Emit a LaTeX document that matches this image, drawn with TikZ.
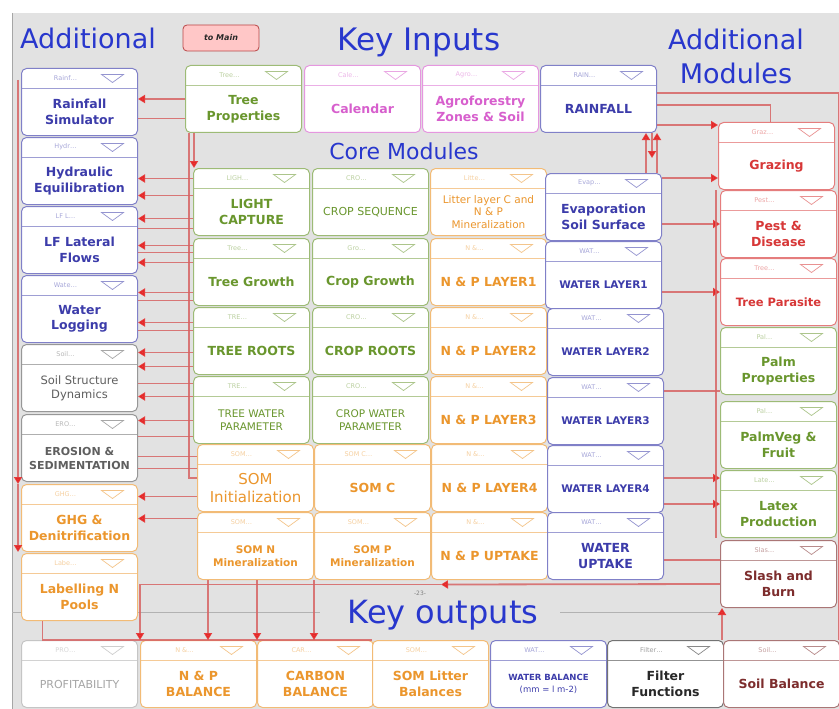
\documentclass[tikz,border=0pt]{standalone}
\usepackage{fontspec}
\setmainfont{DejaVu Sans}
\usepackage{xcolor}
\usetikzlibrary{arrows.meta, positioning, calc}
\definecolor{modnavy}{RGB}{60, 60, 170}
\definecolor{modgreen}{RGB}{105, 150, 45}
\definecolor{modpink}{RGB}{215, 95, 205}
\definecolor{modorange}{RGB}{235, 150, 45}
\definecolor{modred}{RGB}{215, 55, 55}
\definecolor{modgray}{RGB}{95, 95, 95}
\definecolor{modpale}{RGB}{165, 165, 165}
\definecolor{moddark}{RGB}{40, 40, 40}
\definecolor{modbrown}{RGB}{125, 45, 45}
\definecolor{headblue}{RGB}{40, 55, 205}
\definecolor{linkred}{RGB}{215, 100, 100}
\definecolor{tipred}{RGB}{230, 35, 35}
\definecolor{panel}{RGB}{226, 226, 226}
\tikzset{
    module/.style = {rectangle, rounded corners=5pt, draw=#1!65, line width=1pt, fill=white, anchor=north west, minimum width=116pt, minimum height=67pt, inner sep=0pt,
        path picture={
            \draw[sharp corners, #1!50, line width=0.7pt] ([yshift=-20pt]path picture bounding box.north west) -- ([yshift=-20pt]path picture bounding box.north east);
            \draw[sharp corners, #1!55, line width=0.7pt, fill=white] ([xshift=-36pt,yshift=-6pt]path picture bounding box.north east) -- ++(22pt,0pt) -- ++(-11pt,-8pt) -- cycle;
        }},
    modtag/.style = {text=#1!45, font=\fontsize{6.5}{7}\selectfont, inner sep=0pt},
    modtitle/.style 2 args = {text=#1, align=center, font=\bfseries\fontsize{12.5}{15.5}\selectfont#2, inner sep=0pt},
    heading/.style = {text=headblue, inner sep=0pt},
    button/.style = {rectangle, rounded corners=4pt, draw=red!45!gray, fill=red!22, line width=0.8pt, minimum width=76pt, minimum height=26pt, font=\bfseries\itshape\fontsize{8}{9}\selectfont, text=moddark},
    wire/.style = {draw=linkred, line width=1.8pt, opacity=0.85},
    feed/.style = {wire, -{Triangle[length=7pt, width=8pt, color=tipred]}}
}
\begin{document}
\begin{tikzpicture}[x=1pt, y=-1pt]
\useasboundingbox (0,0) rectangle (839,709);
\fill[white] (0,0) rectangle (839,709);
\fill[panel] (12,13) rectangle (839,709);
\draw[gray!70, line width=0.6pt] (12,13) -- (12,709);
\draw[gray!60, line width=0.6pt] (12,612) -- (320,612);
\draw[gray!60, line width=0.6pt] (560,612) -- (720,612);

% headings
\node[heading, font=\fontsize{27}{32}\selectfont] (addleft) at (88,38) {Additional};
\node[heading, font=\fontsize{31}{36}\selectfont] (keyin) at (419,42) {Key Inputs};
\node[heading, font=\fontsize{27}{34}\selectfont, align=center] (addright) at (736,56) {Additional\\Modules};
\node[heading, font=\fontsize{22}{26}\selectfont] (core) at (404,151) {Core Modules};
\node[heading, font=\fontsize{32}{36}\selectfont] (keyout) at (443,615) {Key outputs};
\node[text=gray, font=\fontsize{6}{7}\selectfont] (pageno) at (420,593) {-23-};
\node[button] (tomain) at (221,38) {to Main};

% modules
\foreach \nm/\px/\py/\col/\hd/\fs/\ttl in {
    rs/21/68/modnavy/Rainf/\relax/{Rainfall\\Simulator},
    he/21/137/modnavy/Hydr/\relax/{Hydraulic\\Equilibration},
    lf/21/206/modnavy/LF L/\relax/{LF Lateral\\Flows},
    wl/21/275/modnavy/Wate/\relax/{Water\\Logging},
    ss/21/344/modgray/Soil/{\mdseries\fontsize{11.5}{14}\selectfont}/{Soil Structure\\Dynamics},
    er/21/414/modgray/ERO/{\fontsize{11}{14}\selectfont}/{EROSION \&\\SEDIMENTATION},
    gh/21/484/modorange/GHG/\relax/{GHG \&\\Denitrification},
    ln/21/553/modorange/Labe/\relax/{Labelling N\\Pools},
    tp/185/65/modgreen/Tree/\relax/{Tree\\Properties},
    ca/304/65/modpink/Cale/\relax/{Calendar},
    az/422/65/modpink/Agro/\relax/{Agroforestry\\Zones \& Soil},
    rf/540/65/modnavy/RAIN/\relax/{RAINFALL},
    lc/193/168/modgreen/LIGH/\relax/{LIGHT\\CAPTURE},
    cs/312/168/modgreen/CRO/{\mdseries\fontsize{11}{13}\selectfont}/{CROP SEQUENCE},
    ll/430/168/modorange/Litte/{\mdseries\fontsize{10.5}{12.5}\selectfont}/{Litter layer C and\\N \& P\\Mineralization},
    ev/545/173/modnavy/Evap/\relax/{Evaporation\\Soil Surface},
    tg/193/238/modgreen/Tree/\relax/{Tree Growth},
    cg/312/238/modgreen/Gro/\relax/{Crop Growth},
    np1/430/238/modorange/N \&/\relax/{N \& P LAYER1},
    wa1/545/241/modnavy/WAT/{\fontsize{10.5}{13}\selectfont}/{WATER LAYER1},
    tr/193/307/modgreen/TRE/\relax/{TREE ROOTS},
    cr/312/307/modgreen/CRO/\relax/{CROP ROOTS},
    np2/430/307/modorange/N \&/\relax/{N \& P LAYER2},
    wa2/547/308/modnavy/WAT/{\fontsize{10.5}{13}\selectfont}/{WATER LAYER2},
    tw/193/376/modgreen/TRE/{\mdseries\fontsize{10.5}{13}\selectfont}/{TREE WATER\\PARAMETER},
    cw/312/376/modgreen/CRO/{\mdseries\fontsize{10.5}{13}\selectfont}/{CROP WATER\\PARAMETER},
    np3/430/376/modorange/N \&/\relax/{N \& P LAYER3},
    wa3/547/377/modnavy/WAT/{\fontsize{10.5}{13}\selectfont}/{WATER LAYER3},
    si/197/444/modorange/SOM/{\mdseries\fontsize{15}{18}\selectfont}/{SOM\\Initialization},
    sc/314/444/modorange/SOM C/\relax/{SOM C},
    np4/431/444/modorange/N \&/\relax/{N \& P LAYER4},
    wa4/547/445/modnavy/WAT/{\fontsize{10.5}{13}\selectfont}/{WATER LAYER4},
    sn/197/512/modorange/SOM/{\fontsize{10.5}{13.5}\selectfont}/{SOM N\\Mineralization},
    sp/314/512/modorange/SOM/{\fontsize{10.5}{13.5}\selectfont}/{SOM P\\Mineralization},
    nu/431/512/modorange/N \&/\relax/{N \& P UPTAKE},
    wu/547/512/modnavy/WAT/\relax/{WATER\\UPTAKE},
    gr/718/122/modred/Graz/\relax/{Grazing},
    pd/720/190/modred/Pest/\relax/{Pest \&\\Disease},
    tx/720/258/modred/Tree/{\fontsize{11.5}{14}\selectfont}/{Tree Parasite},
    pp/720/327/modgreen/Pal/\relax/{Palm\\Properties},
    pv/720/401/modgreen/Pal/\relax/{PalmVeg \&\\Fruit},
    lp/720/470/modgreen/Late/\relax/{Latex\\Production},
    sb/720/540/modbrown/Slas/\relax/{Slash and\\Burn},
    pr/21/640/modpale/PRO/{\mdseries\fontsize{11}{13}\selectfont}/{PROFITABILITY},
    nb/140/640/modorange/N \&/\relax/{N \& P\\BALANCE},
    cb/257/640/modorange/CAR/\relax/{CARBON\\BALANCE},
    sl/372/640/modorange/SOM/\relax/{SOM Litter\\Balances},
    wb/490/640/modnavy/WAT/{\fontsize{8.5}{12}\selectfont}/{WATER BALANCE\\\mdseries (mm = l m-2)},
    ff/607/640/moddark/Filter/\relax/{Filter\\Functions},
    sob/723/640/modbrown/Soil/\relax/{Soil Balance}} {
    \node[module=\col] (\nm) at (\px,\py) {};
    \node[modtag=\col] (\nm-h) at ([xshift=-14pt,yshift=-10pt]\nm.north) {\hd\ldots};
    \node[modtitle={\col}{\fs}] (\nm-t) at ([yshift=-10pt]\nm.center) {\ttl};
}

% left bus
\draw[wire] ([xshift=4pt]tp.south west) |- (si.west);
\draw[feed] ([xshift=9pt]tp.south west) -- ([xshift=1pt]lc.north west);
\draw[feed] (tp.west) -- (tp.west -| rs.east);
\draw[wire] ([yshift=-19.5pt]tp.west) -- ([yshift=-19.5pt]tp.west -| rs.east);
\draw[feed] ([yshift=23.5pt]lc.west) -- ([yshift=23.5pt]lc.west -| he.east);
\draw[feed] ([yshift=6.5pt]lc.west) -- ([yshift=6.5pt]lc.west -| he.east);
\draw[feed] ([yshift=-16.5pt]lc.west) -- ([yshift=-16.5pt]lc.west -| lf.east);
\draw[wire] ([yshift=-26.5pt]lc.west) -- ([yshift=-26.5pt]lc.west -| lf.east);
\draw[feed] ([yshift=26.5pt]tg.west) -- ([yshift=26.5pt]tg.west -| lf.east);
\draw[wire] ([yshift=19.5pt]tg.west) -- ([yshift=19.5pt]tg.west -| lf.east);
\draw[feed] ([yshift=9.5pt]tg.west) -- ([yshift=9.5pt]tg.west -| lf.east);
\draw[feed] ([yshift=-20.5pt]tg.west) -- ([yshift=-20.5pt]tg.west -| wl.east);
\draw[wire] ([yshift=-28.5pt]tg.west) -- ([yshift=-28.5pt]tg.west -| wl.east);
\draw[feed] ([yshift=18.5pt]tr.west) -- ([yshift=18.5pt]tr.west -| wl.east);
\draw[wire] ([yshift=10.5pt]tr.west) -- ([yshift=10.5pt]tr.west -| wl.east);
\draw[feed] ([yshift=-11.5pt]tr.west) -- ([yshift=-11.5pt]tr.west -| ss.east);
\draw[feed] ([yshift=-25.5pt]tr.west) -- ([yshift=-25.5pt]tr.west -| ss.east);
\draw[wire] ([yshift=26.5pt]tw.west) -- ([yshift=26.5pt]tw.west -| ss.east);
\draw[feed] ([yshift=13.5pt]tw.west) -- ([yshift=13.5pt]tw.west -| ss.east);
\draw[feed] ([yshift=-10.5pt]tw.west) -- ([yshift=-10.5pt]tw.west -| er.east);
\draw[wire] ([yshift=-26.5pt]tw.west) -- ([yshift=-26.5pt]tw.west -| er.east);
\draw[wire] ([yshift=21.5pt]si.west) -- ([yshift=21.5pt]si.west -| er.east);
\draw[wire] ([yshift=9.5pt]si.west) -- ([yshift=9.5pt]si.west -| er.east);
\draw[feed] ([yshift=-18.5pt]si.west) -- ([yshift=-18.5pt]si.west -| gh.east);
\draw[feed] ([yshift=27.5pt]sn.west) -- ([yshift=27.5pt]sn.west -| gh.east);

% left edge
\draw[wire] ([xshift=-3pt,yshift=-12pt]rs.north west) -- ([xshift=-3pt]er.west);
\draw[feed] ([xshift=-3pt]er.west) -- ([xshift=-3pt]gh.north west);
\draw[feed] ([xshift=-3pt]gh.north west) -- ([xshift=-3pt]gh.south west);
\draw[wire] ([xshift=-37pt]ln.south) |- (sl.north west);

% outputs bus
\draw[feed] ([yshift=-10pt]sb.west) -- ([xshift=10pt,yshift=-4.5pt]nu.south west);
\draw[feed] ([xshift=10pt,yshift=-4.5pt]nu.south west) -| (nb.north west);
\draw[feed] ([xshift=11pt]sn.south west) -- ([xshift=11pt]sn.south west |- nb.north);
\draw[feed] (cb.north west |- sn.south) -- (cb.north west);
\draw[feed] (sp.south west) -- (sp.south west |- cb.north);

% rainfall and right bus
\draw[feed] ([yshift=-26pt]rf.east) -- ([yshift=-26pt]rf.east -| gr.west);
\draw[wire] ([yshift=-6pt]rf.east) -| ([xshift=-6pt]gr.north);
\draw[wire] ([yshift=6pt]rf.east) -| ([xshift=-1pt]sob.north east);
\draw[feed] ([xshift=-16pt]ev.north east) -- ([xshift=-16pt]ev.north east |- rf.south);
\draw[feed] ([xshift=-5pt]ev.north east) -- ([xshift=-5pt]ev.north east |- rf.south);
\draw[feed] ([xshift=-5pt]rf.south east) -- ([xshift=-5pt,yshift=-25pt]rf.south east);
\draw[feed] ([yshift=-5pt]ev.north east) -- ([yshift=-5pt]ev.north east -| gr.west);
\draw[feed] (pd.west -| ev.east) -- (pd.west);
\draw[feed] (tx.west -| wa1.east) -- (tx.west);
\draw[wire] ([yshift=4pt]pp.south west -| wa3.east) -- ([yshift=4pt]pp.south west);
\draw[feed] ([yshift=-8pt]lp.north west -| wa4.east) -- ([yshift=-8pt]lp.north west);
\draw[feed] ([yshift=-34pt]lp.north west -| wa4.east) -- ([yshift=-34pt]lp.north west);
\draw[wire] ([yshift=14pt]sb.west -| wu.east) -- ([yshift=14pt]sb.west);
\draw[wire] ([xshift=-4pt]pd.north west) -- ([xshift=-4pt]lp.south west);
\draw[feed] ([xshift=-1pt]sob.north west) -- ([xshift=-1pt]sob.north west |- sb.south);
\end{tikzpicture}
\end{document}
